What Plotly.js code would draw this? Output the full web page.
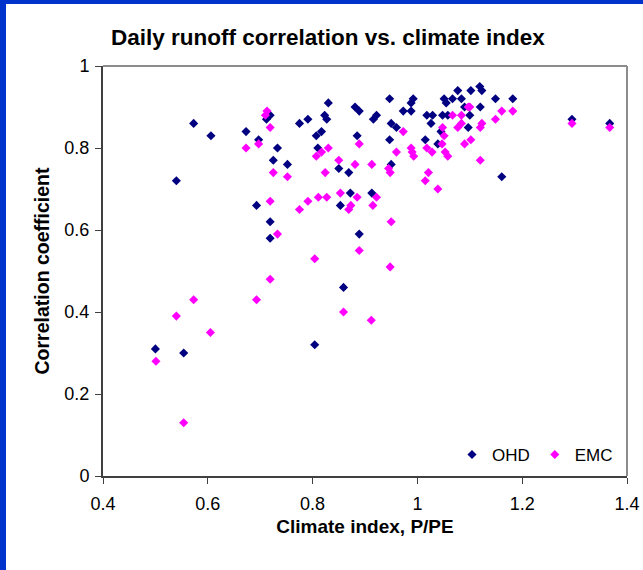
<!DOCTYPE html>
<html>
<head>
<meta charset="utf-8">
<script src="https://cdn.plot.ly/plotly-3.0.1.min.js"></script>
<style>
html,body{margin:0;padding:0;background:#fff;}
#chart{width:643px;height:570px;}
</style>
</head>
<body>
<div id="chart"></div>
<script>
// OHD series (climate index P/PE, correlation coefficient)
const ohdX = [0.50,0.554,0.54,0.573,0.606,0.673,0.697,0.693,0.712,0.719,0.733,0.725,0.752,0.719,0.719,
  0.775,0.791,0.830,0.823,0.827,0.817,0.807,0.810,0.804,0.859,0.850,0.869,0.853,0.872,0.913,
  0.881,0.889,0.885,0.889,0.916,0.922,0.947,0.947,0.950,0.960,0.950,0.973,0.992,0.988,0.988,
  1.015,1.018,1.029,1.026,1.045,1.039,1.048,1.058,1.051,1.055,1.067,1.077,1.084,1.090,1.097,
  1.100,1.102,1.119,1.123,1.120,1.149,1.182,1.161,1.295,1.367];
const ohdY = [0.31,0.30,0.72,0.86,0.83,0.84,0.82,0.66,0.87,0.88,0.80,0.77,0.76,0.62,0.58,
  0.86,0.87,0.91,0.88,0.87,0.84,0.83,0.80,0.32,0.46,0.75,0.74,0.66,0.69,0.69,
  0.90,0.89,0.83,0.59,0.87,0.88,0.92,0.82,0.86,0.85,0.76,0.89,0.92,0.91,0.89,
  0.82,0.88,0.88,0.86,0.84,0.81,0.88,0.88,0.92,0.91,0.92,0.94,0.92,0.90,0.85,
  0.88,0.94,0.95,0.94,0.90,0.92,0.92,0.73,0.87,0.86];

// EMC series
const emcX = [0.501,0.540,0.573,0.605,0.554,0.693,0.719,0.804,0.859,0.912,0.948,0.713,0.710,0.719,0.673,
  0.697,0.725,0.752,0.719,0.733,0.775,0.791,0.811,0.827,0.807,0.817,0.830,0.824,0.850,0.853,
  0.869,0.873,0.881,0.889,0.885,0.889,0.913,0.915,0.922,0.945,0.948,0.950,0.960,0.973,0.988,
  0.990,0.993,1.015,1.021,1.039,1.018,1.028,1.048,1.051,1.047,1.053,1.058,1.067,1.077,1.084,
  1.084,1.090,1.102,1.097,1.100,1.120,1.123,1.120,1.149,1.161,1.182,1.295,1.367];
const emcY = [0.28,0.39,0.43,0.35,0.13,0.43,0.48,0.53,0.40,0.38,0.51,0.89,0.88,0.85,0.80,
  0.81,0.74,0.73,0.67,0.59,0.65,0.67,0.68,0.68,0.78,0.79,0.80,0.74,0.77,0.69,
  0.65,0.66,0.76,0.81,0.68,0.55,0.76,0.66,0.68,0.75,0.74,0.62,0.79,0.84,0.80,
  0.79,0.78,0.72,0.74,0.70,0.80,0.79,0.85,0.83,0.81,0.79,0.78,0.88,0.85,0.86,
  0.88,0.81,0.82,0.90,0.90,0.85,0.86,0.77,0.87,0.89,0.89,0.86,0.85];

const seriesNames = ['OHD', 'EMC'];
const chartTitle = 'Daily runoff correlation vs. climate index';
const xTitle = 'Climate index, P/PE';
const yTitle = 'Correlation coefficient';

const font = 'Liberation Sans, Arial, sans-serif';

const traces = [
  {x: ohdX, y: ohdY, name: seriesNames[0], type: 'scatter', mode: 'markers',
   marker: {symbol: 'diamond', size: 7, color: '#000080'}, cliponaxis: false},
  {x: emcX, y: emcY, name: seriesNames[1], type: 'scatter', mode: 'markers',
   marker: {symbol: 'diamond', size: 7, color: '#ff00ff'}, cliponaxis: false}
];

// pixel helpers for frame decorations (paper coordinates)
const L = 103, R = 16, T = 66, B = 94, W = 643, H = 570;
const pw = W - L - R, ph = H - T - B;
const px = v => (v - L) / pw;
const py = v => (H - B - v) / ph;

const layout = {
  width: W, height: H,
  margin: {l: L, r: R, t: T, b: B},
  paper_bgcolor: '#ffffff',
  plot_bgcolor: '#ffffff',
  font: {family: font, size: 17, color: '#000'},
  showlegend: true,
  title: {text: '<b>' + chartTitle + '</b>', font: {family: font, size: 22.5, color: '#000'},
          xref: 'container', yref: 'container', x: 0.51, xanchor: 'center', y: 1 - 37/570, yanchor: 'middle'},
  xaxis: {
    range: [0.4, 1.4], dtick: 0.2, tick0: 0.4,
    showgrid: false, zeroline: false,
    showline: true, linecolor: '#404040', linewidth: 2,
    ticks: 'outside', ticklen: 6, tickwidth: 1, tickcolor: '#404040',
    ticklabelstandoff: 4,
    tickfont: {family: font, size: 18, color: '#000'},
    title: {text: '<b>' + xTitle + '</b>', font: {family: font, size: 19, color: '#000'}, standoff: 7}
  },
  yaxis: {
    range: [0, 1], dtick: 0.2, tick0: 0,
    showgrid: false, zeroline: false,
    showline: true, linecolor: '#404040', linewidth: 2,
    ticks: 'outside', ticklen: 6, tickwidth: 1, tickcolor: '#404040',
    ticklabelstandoff: 2,
    tickfont: {family: font, size: 18, color: '#000'},
    title: {text: '<b>' + yTitle + '</b>', font: {family: font, size: 19.5, color: '#000'}, standoff: 10}
  },
  legend: {
    orientation: 'h', x: px(618), xanchor: 'right', y: py(455), yanchor: 'middle',
    bgcolor: 'rgba(0,0,0,0)', font: {family: font, size: 17, color: '#000'},
    itemwidth: 30
  },
  shapes: [
    {type: 'line', xref: 'paper', yref: 'paper', x0: 0, x1: 1, y0: 1, y1: 1, line: {color: '#8c8c8c', width: 2}},
    {type: 'line', xref: 'paper', yref: 'paper', x0: 1, x1: 1, y0: 0, y1: 1, line: {color: '#8c8c8c', width: 2}},
    {type: 'rect', xref: 'paper', yref: 'paper', x0: px(0), x1: px(6), y0: py(570), y1: py(0), line: {width: 0}, fillcolor: '#0033cc'},
    {type: 'rect', xref: 'paper', yref: 'paper', x0: px(0), x1: px(643), y0: py(4), y1: py(0), line: {width: 0}, fillcolor: '#0033cc'}
  ]
};

Plotly.newPlot('chart', traces, layout, {displayModeBar: false, staticPlot: true});
</script>
</body>
</html>
